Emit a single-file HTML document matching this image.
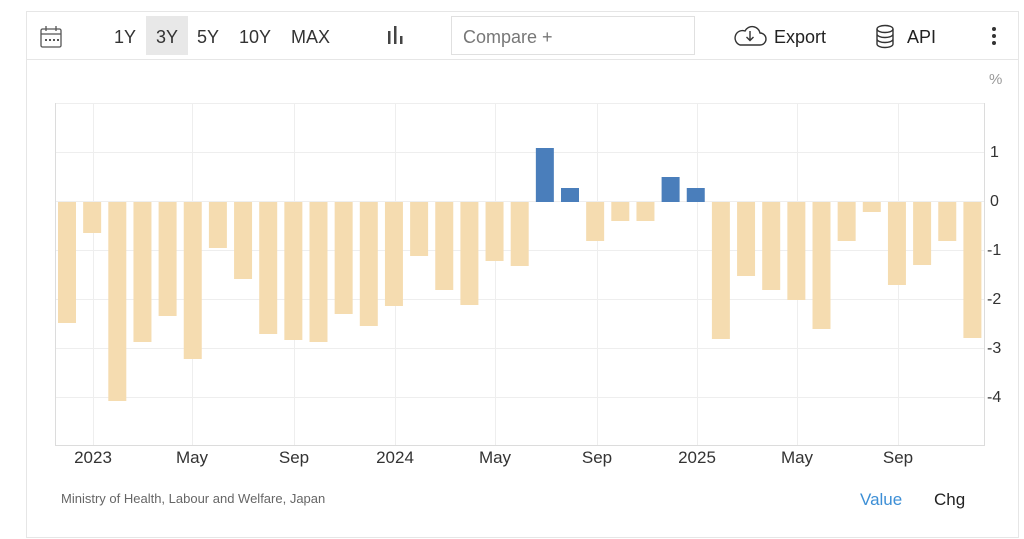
<!DOCTYPE html>
<html><head><meta charset="utf-8"><style>
html,body{margin:0;padding:0;background:#fff;width:1024px;height:539px;overflow:hidden;font-family:"Liberation Sans",sans-serif}
</style></head><body>
<svg width="1024" height="539" xmlns="http://www.w3.org/2000/svg" font-family="Liberation Sans, sans-serif">
<rect x="26.5" y="11.5" width="992" height="526" fill="#fff" stroke="#e6e6e6"/>
<line x1="27" y1="59.5" x2="1018" y2="59.5" stroke="#e6e6e6"/>
<!-- calendar icon -->
<g stroke="#555" fill="none" stroke-width="1.3">
<rect x="41" y="29" width="20" height="18" rx="1.5"/>
<line x1="41" y1="34" x2="61" y2="34"/>
<line x1="46" y1="26" x2="46" y2="31"/><line x1="56" y1="26" x2="56" y2="31"/>
</g>
<g fill="#555"><rect x="45" y="39" width="2" height="2"/><rect x="49" y="39" width="2" height="2"/><rect x="53" y="39" width="2" height="2"/><rect x="57" y="39" width="2" height="2"/></g>
<rect x="146" y="16" width="42" height="39" fill="#e8e8e8"/>
<g font-size="18" fill="#333">
<text x="114" y="43">1Y</text><text x="156" y="43">3Y</text><text x="197" y="43">5Y</text><text x="239" y="43">10Y</text><text x="291" y="43">MAX</text>
</g>
<g fill="#444"><rect x="388" y="31" width="2.5" height="13"/><rect x="394" y="26" width="2.5" height="18"/><rect x="400" y="36" width="2.5" height="8"/></g>
<rect x="451.5" y="16.5" width="243" height="38" fill="#fff" stroke="#e0e0e0"/>
<text x="463" y="43" font-size="18" fill="#777">Compare +</text>
<g stroke="#333" fill="none" stroke-width="1.4">
<path d="M740 45 h20 a6 6 0 0 0 0-12 a8 8 0 0 0-15-2 a6 6 0 0 0-5 14z"/>
<path d="M750 31v9 M746.5 37l3.5 3.5 3.5-3.5"/>
</g>
<text x="774" y="43" font-size="18" fill="#222">Export</text>
<g stroke="#333" fill="none" stroke-width="1.4">
<ellipse cx="885" cy="29" rx="8" ry="3.5"/>
<path d="M877 29v15 a8 3.5 0 0 0 16 0v-15 M877 34a8 3.5 0 0 0 16 0 M877 39a8 3.5 0 0 0 16 0"/>
</g>
<text x="907" y="43" font-size="18" fill="#222">API</text>
<g fill="#333"><circle cx="994" cy="29" r="2"/><circle cx="994" cy="36" r="2"/><circle cx="994" cy="43" r="2"/></g>
<text x="989" y="84" font-size="15" fill="#999">%</text>
<!-- grid -->
<g stroke="#eeeeee" stroke-width="1">
<line x1="55" y1="103.5" x2="984" y2="103.5"/>
<line x1="55" y1="152.5" x2="984" y2="152.5"/>
<line x1="55" y1="201.5" x2="984" y2="201.5"/>
<line x1="55" y1="250.5" x2="984" y2="250.5"/>
<line x1="55" y1="299.5" x2="984" y2="299.5"/>
<line x1="55" y1="348.5" x2="984" y2="348.5"/>
<line x1="55" y1="397.5" x2="984" y2="397.5"/>
<line x1="93.5" y1="103" x2="93.5" y2="446"/>
<line x1="192.5" y1="103" x2="192.5" y2="446"/>
<line x1="294.5" y1="103" x2="294.5" y2="446"/>
<line x1="395.5" y1="103" x2="395.5" y2="446"/>
<line x1="495.5" y1="103" x2="495.5" y2="446"/>
<line x1="597.5" y1="103" x2="597.5" y2="446"/>
<line x1="697.5" y1="103" x2="697.5" y2="446"/>
<line x1="797.5" y1="103" x2="797.5" y2="446"/>
<line x1="898.5" y1="103" x2="898.5" y2="446"/>
</g>
<g stroke="#dcdcdc"><line x1="55.5" y1="103" x2="55.5" y2="446"/><line x1="984.5" y1="103" x2="984.5" y2="446"/><line x1="55" y1="445.5" x2="985" y2="445.5"/></g>
<g id="bars"></g>
<g font-size="16" fill="#333">
<text x="990" y="157">1</text><text x="990" y="206">0</text><text x="987" y="255">-1</text><text x="987" y="304">-2</text><text x="987" y="353">-3</text><text x="987" y="402">-4</text>
</g>
<g font-size="17" fill="#333" text-anchor="middle">
<text x="93" y="463">2023</text><text x="192" y="463">May</text><text x="294" y="463">Sep</text><text x="395" y="463">2024</text><text x="495" y="463">May</text><text x="597" y="463">Sep</text><text x="697" y="463">2025</text><text x="797" y="463">May</text><text x="898" y="463">Sep</text>
</g>
<text x="61" y="503" font-size="13" fill="#666">Ministry of Health, Labour and Welfare, Japan</text>
<text x="860" y="505" font-size="17" fill="#3d8fd6">Value</text>
<text x="934" y="505" font-size="17" fill="#222">Chg</text>
</svg>
<script>
var v=[323,233,401,342,316,359,248,279,334,340,342,314,326,306,256,290,305,261,266,148,188,241,221,221,177,188,339,276,290,300,329,241,212,285,265,241,338];
var g=document.getElementById('bars'),s='';
for(var i=0;i<v.length;i++){var x=58+i*25.15,y=v[i];
if(y<202){s+='<rect x="'+x+'" y="'+y+'" width="18" height="'+(202-y)+'" fill="#4a7ebb"/>';}
else{s+='<rect x="'+x+'" y="202" width="18" height="'+(y-202)+'" fill="#f5dcb0"/>';}}
g.innerHTML=s;
</script>
</body></html>
